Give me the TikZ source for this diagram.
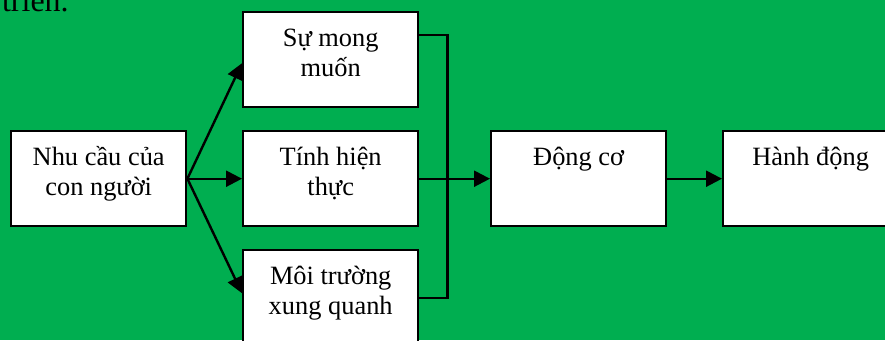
\documentclass[tikz,border=0pt]{standalone}
\usepackage{fontspec}
\setmainfont{Liberation Serif}
\usetikzlibrary{calc,arrows.meta}
\definecolor{bggreen}{HTML}{00AE50}
\begin{document}
\begin{tikzpicture}[x=0.75pt,y=-0.75pt,
  box/.style={draw=black,fill=white,line width=1.8pt,rectangle,
    minimum width=175*0.75pt,minimum height=95*0.75pt,inner sep=0pt,anchor=north west},
  lbl/.style={inner sep=0pt,anchor=base,font=\fontsize{19.8pt}{22.5pt}\selectfont},
  link/.style={draw=black,line width=1.8pt},
  arrow/.style={link,-{Triangle[length=12pt,width=12pt]}}]
\useasboundingbox (0,0) rectangle (885,340);
\fill[bggreen] (0,0) rectangle (885,340);

% end of the preceding sentence
\node[inner sep=0pt,anchor=base east,font=\fontsize{24pt}{27pt}\selectfont] (tail) at (69,11) {triển.};

% boxes
\node[box] (nhu) at (10,130) {};
\node[box] (sm)  at (242,11) {};
\node[box] (th)  at (242,130) {};
\node[box] (mt)  at (242,249) {};
\node[box] (dc)  at (490,130) {};
\node[box] (hd)  at (722,130) {};

% box texts (first baseline 35px below the top edge)
\node[lbl] (nhuT) at ($(nhu.north)+(0,35)$) {\begin{tabular}[t]{@{}c@{}}Nhu cầu của\\con người\end{tabular}};
\node[lbl] (smT)  at ($(sm.north)+(0,35)$)  {\begin{tabular}[t]{@{}c@{}}Sự mong\\muốn\end{tabular}};
\node[lbl] (thT)  at ($(th.north)+(0,35)$)  {\begin{tabular}[t]{@{}c@{}}Tính hiện\\thực\end{tabular}};
\node[lbl] (mtT)  at ($(mt.north)+(0,35)$)  {\begin{tabular}[t]{@{}c@{}}Môi trường\\xung quanh\end{tabular}};
\node[lbl] (dcT)  at ($(dc.north)+(0,35)$)  {Động cơ};
\node[lbl] (hdT)  at ($(hd.north)+(0,35)$)  {Hành động};

% fan-out from needs
\coordinate (smIn) at ($(sm.west)+(0,3.5)$);
\coordinate (mtIn) at ($(mt.west)+(0,-4.5)$);
\draw[arrow] (nhu.east) -- (smIn);
\draw[arrow] (nhu.east) -- (th.west);
\draw[arrow] (nhu.east) -- (mtIn);

% bracket gathering the three factors
\coordinate (smOut) at ($(sm.north east)+(0,24)$);
\coordinate (jTop) at ($(smOut)+(28,0)$);
\coordinate (jBot) at (jTop |- mt.east);
\draw[link] (smOut) -- (jTop) -- (jBot) -- (mt.east);
\draw[arrow] (th.east) -- (dc.west);
\draw[arrow] (dc.east) -- (hd.west);
\end{tikzpicture}
\end{document}
